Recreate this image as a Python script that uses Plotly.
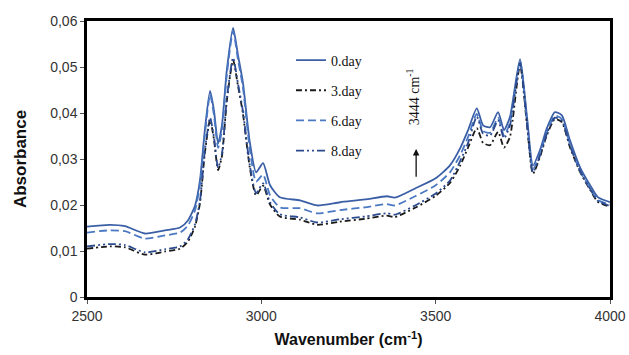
import plotly.graph_objects as go

wavenumber = [2500, 2566, 2609, 2666, 2724, 2767, 2790, 2810, 2824, 2838, 2853, 2864, 2876, 2887, 2901, 2919, 2933, 2947, 2967, 2985,
              3005, 3025, 3053, 3111, 3160, 3226, 3297, 3360, 3383, 3441, 3500, 3541, 3570, 3593, 3618, 3636, 3656, 3679, 3696, 3713,
              3742, 3762, 3779, 3799, 3819, 3842, 3862, 3885, 3914, 3943, 3965, 4000]

day0 = [0.0153, 0.0157, 0.0154, 0.0138, 0.0145, 0.0151, 0.0167, 0.0199, 0.0254, 0.0363, 0.0448, 0.0406, 0.0334, 0.0373, 0.0493, 0.0585, 0.0526, 0.0467, 0.0336, 0.0271,
        0.0291, 0.0243, 0.0217, 0.0210, 0.0199, 0.0206, 0.0212, 0.0219, 0.0216, 0.0236, 0.0258, 0.0286, 0.0323, 0.0363, 0.0410, 0.0373, 0.0369, 0.0402, 0.0363, 0.0391,
        0.0517, 0.0391, 0.0286, 0.0319, 0.0367, 0.0402, 0.0395, 0.0341, 0.0282, 0.0243, 0.0217, 0.0206]
day3 = [0.0105, 0.0110, 0.0108, 0.0092, 0.0099, 0.0105, 0.0121, 0.0154, 0.0204, 0.0313, 0.0385, 0.0343, 0.0276, 0.0306, 0.0426, 0.0515, 0.0459, 0.0400, 0.0281, 0.0221,
        0.0242, 0.0201, 0.0175, 0.0168, 0.0157, 0.0164, 0.0170, 0.0177, 0.0174, 0.0194, 0.0220, 0.0248, 0.0285, 0.0325, 0.0367, 0.0335, 0.0330, 0.0359, 0.0325, 0.0348,
        0.0505, 0.0373, 0.0268, 0.0304, 0.0352, 0.0387, 0.0380, 0.0326, 0.0272, 0.0233, 0.0207, 0.0196]
day6 = [0.0140, 0.0145, 0.0143, 0.0127, 0.0134, 0.0140, 0.0156, 0.0189, 0.0244, 0.0353, 0.0440, 0.0396, 0.0324, 0.0363, 0.0483, 0.0578, 0.0516, 0.0457, 0.0321, 0.0251,
        0.0266, 0.0221, 0.0195, 0.0193, 0.0182, 0.0189, 0.0195, 0.0202, 0.0199, 0.0219, 0.0243, 0.0271, 0.0308, 0.0348, 0.0398, 0.0361, 0.0357, 0.0390, 0.0351, 0.0379,
        0.0512, 0.0383, 0.0278, 0.0311, 0.0359, 0.0394, 0.0387, 0.0333, 0.0274, 0.0236, 0.0211, 0.0201]
day8 = [0.0110, 0.0115, 0.0113, 0.0097, 0.0104, 0.0110, 0.0126, 0.0159, 0.0209, 0.0318, 0.0390, 0.0348, 0.0281, 0.0311, 0.0431, 0.0520, 0.0464, 0.0405, 0.0286, 0.0226,
        0.0247, 0.0206, 0.0180, 0.0173, 0.0162, 0.0169, 0.0175, 0.0182, 0.0179, 0.0199, 0.0225, 0.0253, 0.0295, 0.0335, 0.0392, 0.0355, 0.0351, 0.0384, 0.0345, 0.0373,
        0.0509, 0.0376, 0.0271, 0.0307, 0.0355, 0.0390, 0.0383, 0.0329, 0.0274, 0.0235, 0.0209, 0.0198]

y_ticks = [0, 0.01, 0.02, 0.03, 0.04, 0.05, 0.06]
y_ticktext = ["0", "0,01", "0,02", "0,03", "0,04", "0,05", "0,06"]
x_ticks = [2500, 3000, 3500, 4000]

series = [
    ("0.day", day0, "#3B5FA6", "solid"),
    ("3.day", day3, "#1a1a1a", "6px,3px,2px,3px"),
    ("6.day", day6, "#4A78C2", "8px,4px"),
    ("8.day", day8, "#2C4A8E", "8px,3px,2px,3px,2px,3px"),
]

fig = go.Figure()
for i, (name, vals, color, dash) in enumerate(series):
    fig.add_trace(go.Scatter(
        x=wavenumber, y=vals, mode="lines", name=name,
        legendgroup=name, legendrank=i,
        line=dict(color=color, width=1.8, dash=dash, shape="spline", smoothing=0.6),
    ))

fig.add_annotation(x=3444, y=0.0322, ax=3444, ay=0.0258, xref="x", yref="y", axref="x", ayref="y",
                   text="", showarrow=True, arrowhead=2, arrowsize=1, arrowwidth=1.3, arrowcolor="#111")
fig.add_annotation(x=3436, y=0.0435, xref="x", yref="y", text="3444 cm<sup>-1</sup>", showarrow=False,
                   textangle=-90, font=dict(family="Liberation Serif", size=14, color="#111"))

axis_common = dict(showline=True, linecolor="black", linewidth=2.5, mirror=True, showgrid=False,
                   zeroline=False, ticks="outside", ticklen=4, tickcolor="#555", tickwidth=1,
                   automargin=False,
                   tickfont=dict(family="Liberation Sans", size=14, color="#333"))

fig.update_layout(
    width=629, height=355,
    margin=dict(l=87, r=19, t=21, b=58),
    paper_bgcolor="white", plot_bgcolor="white",
    showlegend=True,
    legend=dict(x=0.39, y=0.915, xanchor="left", yanchor="top", bgcolor="rgba(0,0,0,0)",
                font=dict(family="Liberation Serif", size=14, color="#111"), tracegroupgap=9,
                traceorder="grouped"),
    xaxis=dict(range=[2500, 4000], tickvals=x_ticks,
               title=dict(text="<b>Wavenumber (cm<sup>-1</sup>)</b>", standoff=12,
                          font=dict(family="Liberation Sans", size=16, color="#111")),
               **axis_common),
    yaxis=dict(range=[0, 0.06], tickvals=y_ticks, ticktext=y_ticktext,
               title=dict(text="<b>Absorbance</b>", standoff=20,
                          font=dict(family="Liberation Sans", size=17, color="#111")),
               **axis_common),
)

fig.write_html("out.html")
